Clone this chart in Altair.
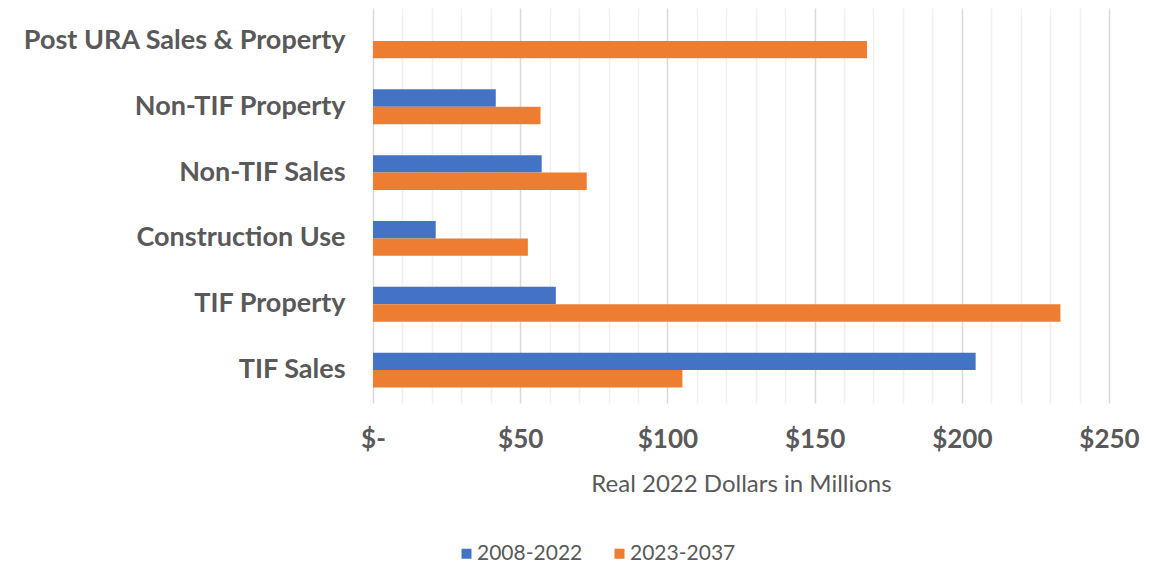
import altair as alt
import pandas as pd

categories = ["Post URA Sales & Property", "Non-TIF Property", "Non-TIF Sales",
              "Construction Use", "TIF Property", "TIF Sales"]
series = ["2008-2022", "2023-2037"]
values_2008_2022 = [0, 41.7, 57.3, 21.3, 62.1, 204.7]
values_2023_2037 = [167.8, 56.9, 72.6, 52.6, 233.5, 105.1]
tick_values = list(range(0, 251, 10))
colors = ["#4472C4", "#ED7D31"]

rows = []
for c, a, b in zip(categories, values_2008_2022, values_2023_2037):
    rows.append({"category": c, "series": series[0], "value": a})
    rows.append({"category": c, "series": series[1], "value": b})
df = pd.DataFrame(rows)

font = "Lato"
gray = "#595959"

chart = alt.Chart(df).mark_bar().encode(
    y=alt.Y("category:N", sort=categories,
            scale=alt.Scale(paddingInner=0.47, paddingOuter=0.235),
            axis=alt.Axis(title=None, labelFont=font, labelFontWeight="bold",
                          labelFontSize=27, labelColor=gray, labelPadding=28,
                          ticks=False, domain=False, labelLimit=400)),
    yOffset=alt.YOffset("series:N", sort=series),
    x=alt.X("value:Q", scale=alt.Scale(domain=[0, 250], nice=False),
            axis=alt.Axis(values=tick_values, grid=True,
                          gridColor={"condition": {"test": "datum.value % 50 === 0", "value": "#D9D9D9"},
                                     "value": "#F0F0F0"},
                          gridWidth=1.5, ticks=False, domain=False,
                          labelExpr="datum.value % 50 === 0 ? (datum.value === 0 ? '$-' : '$' + datum.value) : ''",
                          labelOverlap=False, labelFlush=False,
                          labelFont=font, labelFontWeight="bold", labelFontSize=26,
                          labelColor=gray, labelPadding=23,
                          title="Real 2022 Dollars in Millions", titleFont=font,
                          titleFontWeight="normal", titleFontSize=24, titleColor=gray,
                          titlePadding=20)),
    color=alt.Color("series:N", sort=series,
                    scale=alt.Scale(domain=series, range=colors),
                    legend=alt.Legend(title=None, orient="none", legendX=83, legendY=535,
                                      direction="horizontal", symbolType="square",
                                      symbolSize=100, symbolStrokeWidth=0,
                                      labelFont=font, labelFontSize=21, labelColor=gray,
                                      labelOffset=0, columnPadding=26)),
).properties(
    width=736, height=395,
    autosize=alt.AutoSizeParams(type="none"),
    padding={"left": 365, "top": 0, "right": 40, "bottom": 165},
).configure_view(stroke=None)

chart.save("out.html", embed_options={"renderer": "svg", "actions": False})
